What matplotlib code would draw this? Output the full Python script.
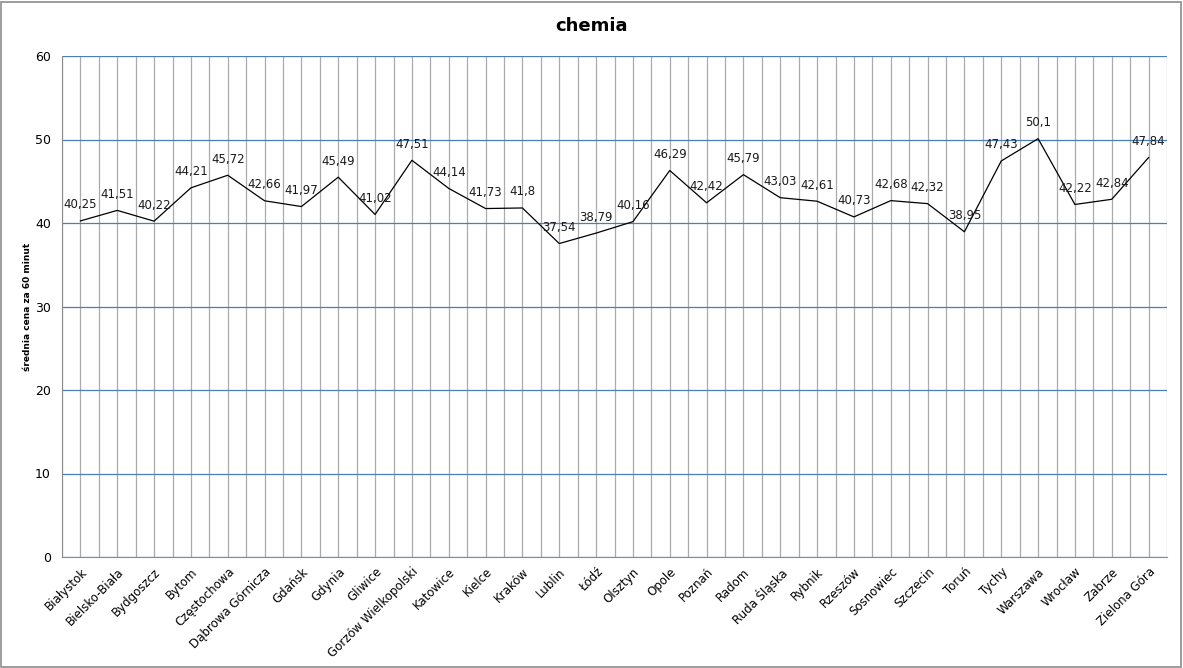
import numpy as np
import matplotlib
matplotlib.use('Agg')
import matplotlib.pyplot as plt
from matplotlib.patches import Rectangle

cities = ['Białystok', 'Bielsko-Biała', 'Bydgoszcz', 'Bytom', 'Częstochowa',
          'Dąbrowa Górnicza', 'Gdańsk', 'Gdynia', 'Gliwice', 'Gorzów Wielkopolski',
          'Katowice', 'Kielce', 'Kraków', 'Lublin', 'Łódź', 'Olsztyn', 'Opole',
          'Poznań', 'Radom', 'Ruda Śląska', 'Rybnik', 'Rzeszów', 'Sosnowiec',
          'Szczecin', 'Toruń', 'Tychy', 'Warszawa', 'Wrocław', 'Zabrze', 'Zielona Góra']
prices = [40.25, 41.51, 40.22, 44.21, 45.72, 42.66, 41.97, 45.49, 41.02, 47.51,
          44.14, 41.73, 41.8, 37.54, 38.79, 40.16, 46.29, 42.42, 45.79, 43.03,
          42.61, 40.73, 42.68, 42.32, 38.95, 47.43, 50.1, 42.22, 42.84, 47.84]
y_ticks = [0, 10, 20, 30, 40, 50, 60]


def fmt(v):
	# excel style: comma decimal, no trailing zeros
	s = ('%.2f' % v).rstrip('0').rstrip('.')
	return s.replace('.', ',')


def main():
	fig = plt.figure(figsize=(11.83, 6.68), dpi=100)
	ax = fig.add_axes([62 / 1183, 1 - 557 / 668, (1167 - 62) / 1183, (557 - 56) / 668])

	x = np.arange(len(cities))
	ax.plot(x, prices, color='#000000', lw=0.9, zorder=3)

	for xi, v in zip(x, prices):
		ax.annotate(fmt(v), (xi, v), xytext=(0, 16), textcoords='offset pixels',
					ha='center', va='center', fontsize=8.5, color='#1a1a1a', zorder=4)

	ax.set_xlim(-0.5, len(cities) - 0.5)
	ax.set_ylim(0, 60)
	ax.set_yticks(y_ticks)
	ax.set_yticklabels([str(t) for t in y_ticks], fontsize=9)
	ax.set_xticks(x)
	ax.set_xticklabels(cities, rotation=45, ha='right', rotation_mode='anchor', fontsize=8.5)
	ax.set_xticks(np.arange(-0.5, len(cities), 1.0), minor=True)
	ax.tick_params(axis='both', which='both', length=0)
	ax.tick_params(axis='x', pad=6)
	ax.tick_params(axis='y', pad=8)

	# grid lines
	ax.yaxis.grid(True, color='#4a7ebb', lw=0.9)
	ax.xaxis.grid(True, which='major', color='#ababab', lw=0.9)
	ax.xaxis.grid(True, which='minor', color='#ababab', lw=0.9)
	ax.set_axisbelow(True)

	for side in ['top', 'right']:
		ax.spines[side].set_visible(False)
	ax.spines['left'].set_color('#8c8c8c')
	ax.spines['bottom'].set_color('#8c8c8c')

	ax.set_ylabel('średnia cena za 60 minut', fontsize=6.5, fontweight='bold')
	ax.yaxis.set_label_coords(-30 / 1105, 0.5)
	fig.text(591 / 1183, 1 - 26 / 668, 'chemia', ha='center', va='center',
			 fontsize=13, fontweight='bold')

	# outer frame
	fig.patches.append(Rectangle((0.001, 0.002), 0.997, 0.995, transform=fig.transFigure,
								 fill=False, edgecolor='#8c8c8c', lw=1.2))

	fig.savefig('out.png', dpi=100)


if __name__ == '__main__':
	main()
